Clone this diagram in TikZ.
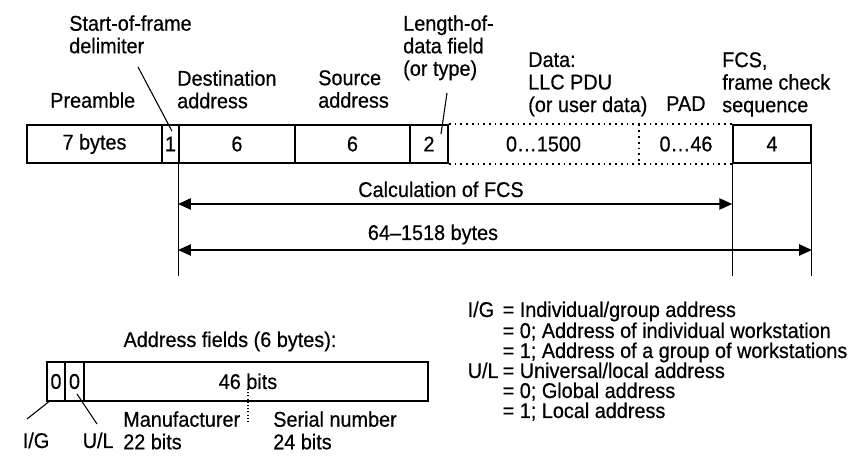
\documentclass[tikz,border=0pt]{standalone}
\usepackage{fontspec}
\setmainfont{Liberation Sans}[FakeStretch=0.93, FakeBold=0.5]
\usetikzlibrary{arrows.meta}
\tikzset{
  field/.style={draw, line width=1.3pt, minimum height=28.5pt, inner sep=0pt},
  open field/.style={draw=none, minimum height=28.5pt, inner sep=0pt},
  dotline/.style={line width=1.3pt, dash pattern=on 1.3pt off 3pt},
  thindots/.style={line width=0.8pt, dash pattern=on 0.8pt off 1.6pt},
  leader/.style={line width=0.8pt},
  extline/.style={line width=0.8pt},
  dimarrow/.style={line width=0.8pt, {Triangle[length=9.5pt,width=8.5pt]}-{Triangle[length=9.5pt,width=8.5pt]}},
  lbl/.style={inner sep=0pt, align=left, anchor=north west},
}

\begin{document}
\begin{tikzpicture}[x=0.75pt, y=-0.75pt, font=\fontsize{16}{16.9}\selectfont]
\useasboundingbox (0,0) rectangle (851,466);

% Frame fields
\foreach \l/\r/\t/\n/\s in {27/162/7 bytes/pre/field, 162/179/1/sfd/field,
    179/295/6/dest/field, 295/410/6/src/field, 410/448/2/len/field,
    448/639/0…1500/data/open field, 639/733/0…46/pad/open field, 733/811/4/fcs/field} {
  \node[\s, minimum width={(\r-\l)*0.75pt}] (\n) at ({(\l+\r)/2},144) {\t};
}

% Data and PAD (open)
\draw[dotline] (len.north east) -- (fcs.north west);
\draw[dotline] (len.south east) -- (fcs.south west);
\draw[dotline] (pad.north west) -- (pad.south west);

% Labels above the frame
\node[lbl] (lblpre) at (50,92) {Preamble};
\node[lbl] (lblsfd) at (69,15) {Start-of-frame\\delimiter};
\node[lbl] (lbldest) at (177,70) {Destination\\address};
\node[lbl] (lblsrc) at (318,70) {Source\\address};
\node[lbl] (lbllen) at (403,15) {Length-of-\\data field\\(or type)};
\node[lbl] (lbldata) at (528,52) {Data:\\LLC PDU\\(or user data)};
\node[lbl] (lblpad) at (666,96) {PAD};
\node[lbl] (lblfcs) at (722,52) {FCS,\\frame check\\sequence};

% Leaders
\coordinate (sfdfoot) at (138,67);
\coordinate (lenfoot) at (447,93);
\draw[leader] (sfdfoot) -- ([xshift=1.1pt,yshift=-5.2pt]sfd.north);
\draw[leader] (lenfoot) -- ([xshift=9pt,yshift=-7.5pt]len.north);

% Extension lines and spans
\draw[extline] (dest.south west) -- ++(0,112);
\draw[extline] (fcs.south west) -- ++(0,112);
\draw[extline] (fcs.south east) -- ++(0,112);
\draw[dimarrow] (dest.south west |- 0,204) -- (fcs.south west |- 0,204);
\draw[dimarrow] (dest.south west |- 0,250) -- (fcs.south east |- 0,250);
\node[anchor=base] (calc) at (441,197) {Calculation of FCS};
\node[anchor=base] (span) at (433,240) {64--1518 bytes};

% Address field
\node[anchor=base] (lbladdr) at (230,347) {Address fields (6 bytes):};
\foreach \l/\r/\t/\n in {47/65/0/ig, 65/84/0/ul, 84/428//addr} {
  \node[field, minimum height=29.25pt, minimum width={(\r-\l)*0.75pt}] (\n) at ({(\l+\r)/2},381.5) {\t};
}
\node[anchor=base] (bits) at (248,389) {46 bits};
\coordinate (split) at (248,389);
\draw[thindots] (split) -- ++(0,34);
\node[lbl] (lblmfg) at (123,411) {Manufacturer\\22 bits};
\node[lbl] (lblser) at (273,411) {Serial number\\24 bits};
\node[anchor=base] (lblig) at (36,448) {I/G};
\node[anchor=base west] (lblul) at (78,448) {U/L};
\coordinate (igfoot) at (27,419);
\coordinate (ulfoot) at (97,424);
\draw[leader] ([xshift=-4.5pt,yshift=0.8pt]ig.south) -- (igfoot);
\draw[leader] ([xshift=1.9pt,yshift=-9.4pt]ul.center) -- (ulfoot);

% Key
\node[anchor=base west] (keyig) at (463,317) {I/G};
\node[anchor=base west] (keyul) at (463,378) {U/L};
\foreach \y/\t/\n in {317/{= Individual/group address}/keya,
    338/{= 0; Address of individual workstation}/keyb,
    358/{= 1; Address of a group of workstations}/keyc,
    378/{= Universal/local address}/keyd,
    398/{= 0; Global address}/keye,
    418/{= 1; Local address}/keyf} {
  \node[anchor=base west] (\n) at (498,\y) {\t};
}
\end{tikzpicture}
\end{document}
